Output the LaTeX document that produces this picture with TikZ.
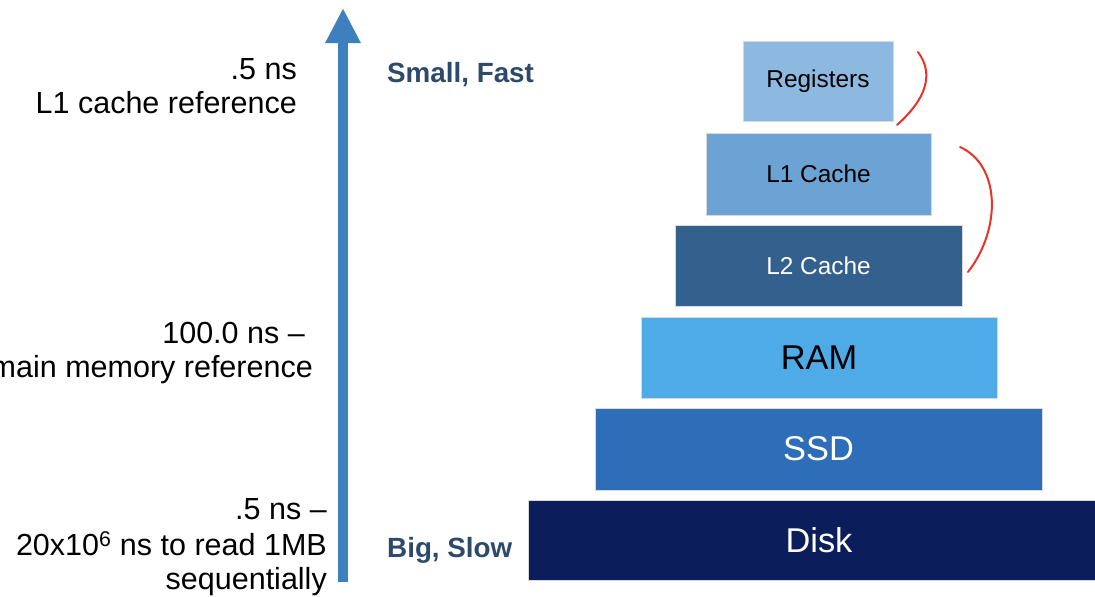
\documentclass[tikz,border=0pt]{standalone}
\usepackage{fontspec}
\setmainfont{Liberation Sans}
\usetikzlibrary{arrows.meta}
\definecolor{regc}{HTML}{8DB9E0}
\definecolor{lonec}{HTML}{6CA3D4}
\definecolor{ltwoc}{HTML}{34608E}
\definecolor{ramc}{HTML}{4EABE8}
\definecolor{ssdc}{HTML}{2E6DB7}
\definecolor{diskc}{HTML}{0C1D5B}
\definecolor{arrowc}{HTML}{3E7FBE}
\definecolor{labc}{HTML}{2D4A6A}
\definecolor{redc}{HTML}{E8332A}
\begin{document}
\begin{tikzpicture}[x=1pt,y=-1pt,
  layer/.style={draw=white!85!black, line width=0.6pt, inner sep=0pt},
  smalltxt/.style={font=\fontsize{24.4}{27}\selectfont},
  bigtxt/.style={font=\fontsize{34.4}{38}\selectfont},
  lefttext/.style={align=right, anchor=east, inner sep=0pt, font=\fontsize{30.5}{34}\selectfont, text=black},
  sidelab/.style={anchor=west, inner sep=0pt, text=labc, font=\bfseries\fontsize{27.8}{30}\selectfont},
  memo/.style={draw=redc, line width=2pt, line cap=round}]
\useasboundingbox (0,0) rectangle (1095,597);
\clip (0,0) rectangle (1095,597);
\fill[white] (0,0) rectangle (1095,597);

% arrow
\coordinate (abot) at (343,582);
\coordinate (atop) at (343,8);
\draw[arrowc, line width=10pt, -{Triangle[width=33pt,length=35pt]}] (abot) -- (atop);

% left texts
\node[lefttext] (t1) at (297,86) {.5 ns\\L1 cache reference};
\node[lefttext] (t2) at (313,353) {100.0 ns –\hspace*{8pt}\\main memory reference};
\node[lefttext] (t3) at (327,547) {.5 ns –\\[2pt]20x10\textsuperscript{6} ns to read 1MB\\sequentially};

% side labels
\node[sidelab] (sf) at (387,75) {Small, Fast};
\node[sidelab] (bs) at (387,550) {Big, Slow};

% pyramid
\node[layer, fill=regc, minimum width=150pt, minimum height=80pt, smalltxt, text=black] (reg) at (818,81) {Registers};
\node[layer, fill=lonec, minimum width=225pt, minimum height=82pt, smalltxt, text=black] (l1) at (818.5,174) {L1 Cache};
\node[layer, fill=ltwoc, minimum width=287pt, minimum height=81pt, smalltxt, text=white] (l2) at (818.5,265.5) {L2 Cache};
\node[layer, fill=ramc, minimum width=356pt, minimum height=81pt, bigtxt, text=black] (ram) at (819,357.5) {RAM};
\node[layer, fill=ssdc, minimum width=447pt, minimum height=82pt, bigtxt, text=white] (ssd) at (818.5,449) {SSD};
\node[layer, fill=diskc, minimum width=582pt, minimum height=80pt, bigtxt, text=white] (disk) at (819,540) {Disk};

% red hand-drawn marks
\coordinate (r1a) at (897,125);
\coordinate (r1b) at (918,52);
\draw[memo] (r1a) .. controls (925,100) and (935,75) .. (r1b);
\coordinate (r2a) at (968,272);
\coordinate (r2b) at (960,147);
\draw[memo] (r2a) .. controls (1002,228) and (1000,165) .. (r2b);
\end{tikzpicture}
\end{document}
